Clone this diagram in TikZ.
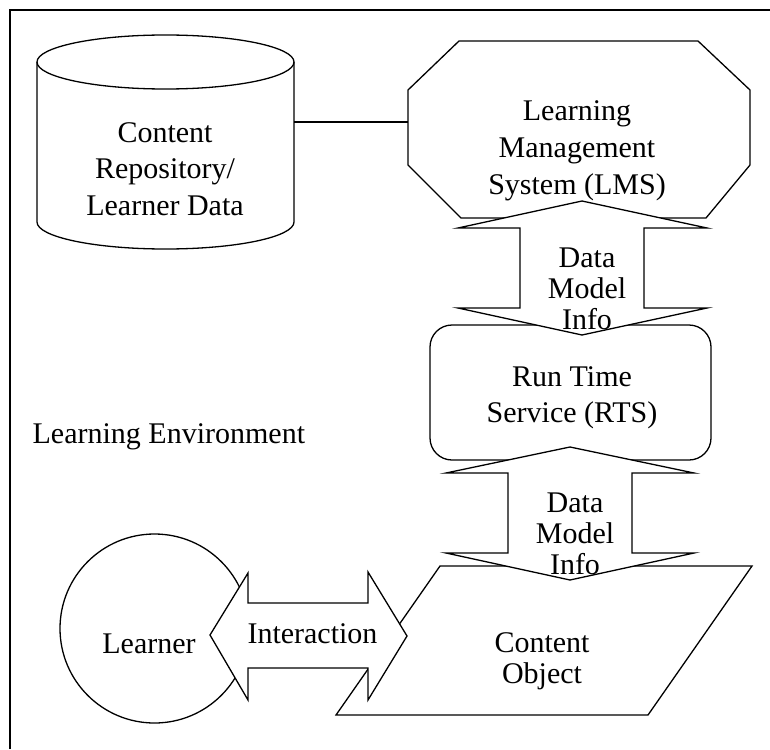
\documentclass[tikz,border=0pt]{standalone}
\usepackage{fontspec}
\setmainfont{Liberation Serif}
\usepackage{tikz}

\tikzset{
  lbl/.style={align=center, inner sep=0pt, font=\fontsize{30}{36.5}\selectfont},
  tight/.style={lbl, font=\fontsize{30}{31}\selectfont},
  blockarrow/.style={draw, fill=white}
}

\begin{document}
\begin{tikzpicture}[x=1pt, y=-1pt, line width=1.3pt, line join=miter]
\useasboundingbox (0,0) rectangle (770,749);
\draw (10,749) -- (10,10) -- (770,10);
\draw (165.5,62) ellipse [x radius=128.5, y radius=27];
\draw (37,62) -- (37,222) arc (180:0:128.5 and 27) -- (294,62);
\node[lbl] (repo) at (165,169) {Content\\Repository/\\Learner Data};
\draw (459,41) -- (698,41) -- (750,90) -- (750,165) -- (706,218) -- (461,218) -- (408,165) -- (408,90) -- cycle;
\node[lbl, font=\fontsize{30}{37}\selectfont] (lms) at (577,151) {Learning\\Management\\System (LMS)};
\coordinate (repoE) at (294,122);
\coordinate (lmsW) at (408,122);
\draw (repoE) -- (lmsW);
\draw[rounded corners=22pt] (430,325) rectangle (711,460);
\node[lbl] (rts) at (572,398) {Run Time\\Service (RTS)};
\draw (440,566) -- (752,566) -- (648,715) -- (336,715) -- cycle;
\node[tight] (obj) at (542,661) {Content\\Object};
\draw (154.5,628.5) circle (94.5);
\node[lbl, anchor=base] (learner) at (149,653) {Learner};
\draw[blockarrow] (582,201) -- (707,228) -- (644,228) -- (644,308) -- (707,308) -- (582,335)
  -- (458,308) -- (520,308) -- (520,228) -- (458,228) -- cycle;
\node[tight] (dmi1) at (587,289) {Data\\Model\\Info};
\draw[blockarrow] (570,447) -- (694,473) -- (632,473) -- (632,553) -- (694,553) -- (570,580)
  -- (446,553) -- (508,553) -- (508,473) -- (446,473) -- cycle;
\node[tight] (dmi2) at (575,534) {Data\\Model\\Info};
\draw[blockarrow] (210,635) -- (248,573) -- (248,603) -- (368,603) -- (368,572) -- (407,636)
  -- (368,700) -- (368,668) -- (248,668) -- (248,700) -- cycle;
\node[lbl, anchor=base] (inter) at (312.5,643) {Interaction};
\node[lbl, anchor=base west] (env) at (32,443) {Learning Environment};
\end{tikzpicture}
\end{document}
